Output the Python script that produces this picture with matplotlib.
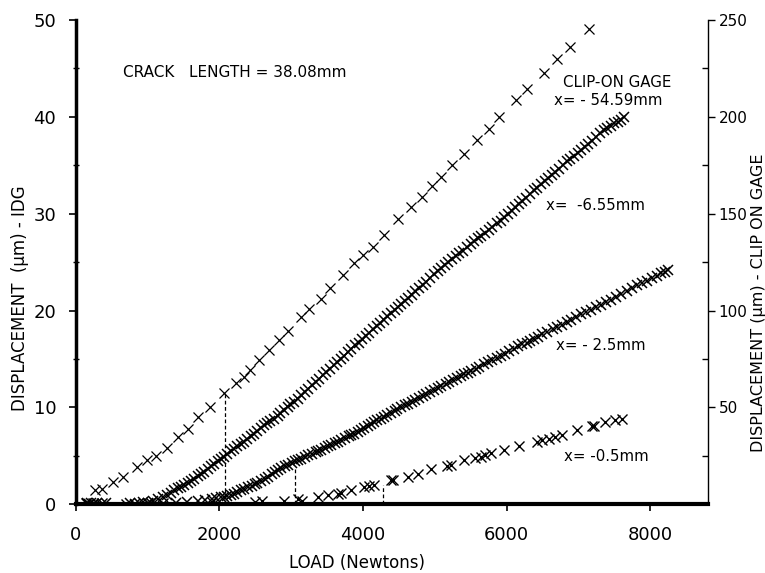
import matplotlib
matplotlib.use("Agg")
import matplotlib.pyplot as plt
from matplotlib.ticker import MultipleLocator

# clip-on gage, x = -54.59 mm (right axis, um)
clip_load = [268, 361, 523, 662, 847, 986, 1111, 1273, 1426, 1565, 1704, 1866, 2065, 2236,
             2343, 2421, 2546, 2690, 2829, 2954, 3139, 3254, 3417, 3546, 3718, 3879, 3996,
             4135, 4296, 4482, 4667, 4829, 4968, 5083, 5246, 5407, 5593, 5754, 5893, 6125,
             6288, 6518, 6704, 6889, 7143]
clip_disp = [7.2, 8.1, 11.5, 14.1, 19.3, 22.8, 24.8, 28.8, 34.8, 39.1, 44.8, 50.2, 57.2, 62.4,
             65.8, 69.2, 74.4, 79.5, 84.7, 89.5, 96.8, 101, 106.2, 111.4, 118.5, 124.5, 128.5,
             133, 139, 147.5, 153.5, 158.5, 164.5, 169, 175, 181, 188, 194, 200, 208.5,
             214.5, 222.5, 230, 236, 245.5]

# IDG, x = -6.55 mm (left axis, um)
idg655_load = [160, 210, 260, 420, 760, 880, 940,
               1000, 1080, 1150, 1210, 1270, 1320, 1370, 1420, 1470, 1510, 1560, 1600, 1650,
               1700, 1740, 1790, 1840, 1880, 1930, 1980, 2020, 2070, 2110, 2160, 2200, 2250,
               2300, 2340, 2390, 2440, 2480, 2530, 2580, 2620, 2670, 2710, 2760, 2810, 2850,
               2900, 2950, 2990, 3040, 3090, 3140, 3190, 3240, 3290, 3340, 3390, 3440, 3490,
               3540, 3590, 3640, 3690, 3740, 3790, 3840, 3890, 3940, 3990, 4040, 4090, 4140,
               4190, 4240, 4290, 4340, 4390, 4440, 4490, 4530, 4580, 4630, 4680, 4730, 4780,
               4830, 4880, 4930, 4990, 5040, 5090, 5140, 5190, 5240, 5290, 5340, 5390, 5450,
               5500, 5550, 5600, 5650, 5700, 5750, 5800, 5860, 5920, 5970, 6020, 6070, 6120,
               6170, 6220, 6270, 6320, 6380, 6430, 6480, 6530, 6580, 6630, 6680, 6730, 6790,
               6840, 6890, 6940, 6990, 7040, 7090, 7140, 7190, 7240, 7300, 7350, 7400, 7450,
               7500, 7550, 7600, 7640]
idg655_disp = [0.1, 0.1, 0.05, 0.1, 0.15, 0.1, 0.2,
               0.15, 0.3, 0.5, 0.75, 1.0, 1.2, 1.45, 1.65, 1.8, 1.96, 2.2, 2.4, 2.65,
               2.9, 3.1, 3.35, 3.65, 3.9, 4.2, 4.45, 4.65, 4.9, 5.2, 5.45, 5.75, 6.0,
               6.25, 6.45, 6.75, 7.05, 7.3, 7.6, 7.9, 8.15, 8.4, 8.6, 8.85, 9.15, 9.45,
               9.7, 10.0, 10.3, 10.6, 10.9, 11.25, 11.6, 11.95, 12.3, 12.6, 12.95, 13.3, 13.65,
               14.0, 14.35, 14.7, 15.0, 15.35, 15.7, 16.05, 16.4, 16.7, 17.05, 17.4, 17.7, 18.05,
               18.4, 18.7, 19.05, 19.4, 19.7, 20.05, 20.4, 20.65, 21.0, 21.3, 21.65, 22.0, 22.3,
               22.65, 23.0, 23.35, 23.8, 24.1, 24.4, 24.7, 25.0, 25.3, 25.6, 25.9, 26.2, 26.6,
               26.9, 27.2, 27.5, 27.75, 28.05, 28.35, 28.65, 29.0, 29.3, 29.65, 30.0, 30.3, 30.65,
               31.0, 31.3, 31.65, 32.0, 32.4, 32.7, 33.05, 33.35, 33.7, 34.0, 34.35, 34.65, 35.05,
               35.4, 35.7, 36.0, 36.3, 36.6, 36.9, 37.2, 37.55, 37.9, 38.3, 38.6, 38.85, 39.1,
               39.35, 39.5, 39.7, 39.95]

# IDG, x = -2.5 mm
idg25_load = [190, 300, 820, 1050, 1400, 1550,
              1700, 1800, 1900, 1960, 2020, 2070, 2110, 2160, 2200, 2250, 2300, 2350, 2400,
              2450, 2500, 2530, 2580, 2630, 2680, 2730, 2780, 2820, 2860, 2910, 2960, 3010,
              3060, 3100, 3140, 3190, 3240, 3290, 3340, 3380, 3420, 3470, 3520, 3560, 3610,
              3650, 3700, 3750, 3800, 3840, 3880, 3930, 3970, 4020, 4070, 4110, 4160, 4200,
              4250, 4300, 4340, 4390, 4440, 4480, 4530, 4580, 4630, 4680, 4730, 4780, 4830,
              4880, 4940, 4990, 5040, 5090, 5150, 5200, 5260, 5310, 5360, 5410, 5460, 5510,
              5570, 5620, 5680, 5740, 5800, 5860, 5920, 5980, 6040, 6100, 6160, 6220, 6280,
              6330, 6380, 6440, 6500, 6570, 6640, 6700, 6770, 6840, 6900, 6970, 7040, 7110,
              7180, 7250, 7310, 7380, 7450, 7530, 7600, 7680, 7750, 7820, 7890, 7960, 8030,
              8090, 8150, 8200, 8250]
idg25_disp = [0.05, 0.1, 0.05, 0.15, 0.1, 0.2,
              0.3, 0.45, 0.55, 0.6, 0.7, 0.75, 0.85, 1.0, 1.1, 1.27, 1.45, 1.62, 1.75,
              1.9, 2.05, 2.15, 2.4, 2.65, 2.85, 3.1, 3.3, 3.5, 3.7, 3.9, 4.1, 4.3,
              4.45, 4.6, 4.72, 4.9, 5.05, 5.2, 5.35, 5.5, 5.6, 5.8, 6.0, 6.15, 6.3,
              6.45, 6.6, 6.8, 7.0, 7.15, 7.3, 7.5, 7.65, 7.85, 8.05, 8.25, 8.45, 8.65,
              8.85, 9.05, 9.25, 9.45, 9.65, 9.8, 10.0, 10.2, 10.4, 10.6, 10.8, 11.0, 11.15,
              11.35, 11.6, 11.8, 12.0, 12.2, 12.4, 12.6, 12.85, 13.05, 13.25, 13.45, 13.6, 13.8,
              14.0, 14.2, 14.45, 14.65, 14.85, 15.1, 15.3, 15.55, 15.8, 16.05, 16.3, 16.5, 16.7,
              16.9, 17.1, 17.3, 17.55, 17.8, 18.05, 18.3, 18.55, 18.8, 19.05, 19.3, 19.6, 19.85,
              20.1, 20.4, 20.6, 20.85, 21.1, 21.45, 21.7, 22.05, 22.35, 22.6, 22.8, 23.05, 23.35,
              23.6, 23.85, 24.0, 24.2]

# IDG, x = -0.5 mm
idg05_load = [140, 240, 360, 700, 1000, 1220, 1900, 2500, 2600, 2900, 3150,
              3093, 3370, 3509, 3648, 3700, 3833, 4018, 4080, 4157, 4389, 4420, 4621, 4760,
              4944, 5176, 5230, 5407, 5560, 5639, 5700, 5778, 5963, 6171, 6426, 6500, 6588,
              6680, 6773, 6982, 7190, 7220, 7375, 7514, 7606]
idg05_disp = [0.1, 0.15, 0.1, 0.05, 0.1, 0.15, 0.2, 0.25, 0.3, 0.3, 0.35,
              0.58, 0.75, 0.93, 1.1, 1.15, 1.45, 1.79, 1.85, 1.96, 2.48, 2.5, 2.82, 3.17,
              3.69, 4.0, 4.1, 4.55, 4.8, 4.89, 5.05, 5.24, 5.58, 6.0, 6.44, 6.6, 6.78,
              6.95, 7.13, 7.64, 8.06, 8.1, 8.5, 8.68, 8.85]

# dashed drop lines
drop_load = [2083, 3056, 4273]
drop_top = [11.4, 3.8, 2.0]

fig = plt.figure(figsize=(7.65, 5.73), dpi=100)
ax = fig.add_axes([0.099, 0.12, 0.826, 0.845])
ax2 = ax.twinx()

mk = dict(linestyle="none", marker="x", color="black")
ax2.plot(clip_load, clip_disp, markersize=6.5, mew=0.9, **mk)
ax.plot(idg655_load, idg655_disp, markersize=6.5, mew=1.1, **mk)
ax.plot(idg25_load, idg25_disp, markersize=6.5, mew=1.1, **mk)
ax.plot(idg05_load, idg05_disp, markersize=6.5, mew=1.0, **mk)
ax.vlines(drop_load, 0, drop_top, colors="black", linestyles=(0, (3, 2)), linewidth=0.9)

ax.set_xlim(0, 8800)
ax.set_ylim(0, 50)
ax2.set_ylim(0, 250)

ax.spines["top"].set_visible(False)
ax2.spines["top"].set_visible(False)
ax.spines["left"].set_linewidth(2.5)
ax.spines["bottom"].set_linewidth(3)
ax2.spines["right"].set_linewidth(1)
ax.spines["right"].set_visible(False)
ax2.spines["left"].set_visible(False)
ax2.spines["bottom"].set_visible(False)

ax.xaxis.set_major_locator(MultipleLocator(2000))
ax.yaxis.set_major_locator(MultipleLocator(10))
ax.yaxis.set_minor_locator(MultipleLocator(5))
ax2.yaxis.set_minor_locator(MultipleLocator(25))
ax2.set_yticks([50, 100, 150, 200, 250])

ax.tick_params(axis="x", direction="out", length=5, width=1.2, labelsize=13, pad=11)
ax.tick_params(axis="y", which="major", direction="out", length=5, width=1.2, labelsize=13, pad=9)
ax.tick_params(axis="y", which="minor", direction="inout", length=4, width=1)
ax2.tick_params(axis="y", which="major", direction="out", length=5, width=1, labelsize=11, pad=3)
ax2.tick_params(axis="y", which="minor", direction="in", length=4, width=1)

fig.text(20 / 765, 1 - 298 / 573, "DISPLACEMENT  (\u03bcm) - IDG", fontsize=12,
         rotation=90, ha="center", va="center")
fig.text(758 / 765, 1 - 303 / 573, "DISPLACEMENT (\u03bcm) - CLIP ON GAGE", fontsize=11.5,
         rotation=90, ha="center", va="center")
fig.text(357 / 765, 1 - 563 / 573, "LOAD (Newtons)", fontsize=12, ha="center", va="center")

ax.text(653, 44.6, "CRACK   LENGTH = 38.08mm", fontsize=11, va="center")
ax.text(6792, 43.5, "CLIP-ON GAGE", fontsize=10.8, va="center")
ax.text(6667, 41.7, "x= - 54.59mm", fontsize=10.8, va="center")
ax.text(6556, 30.9, "x=  -6.55mm", fontsize=10.8, va="center")
ax.text(6694, 16.4, "x= - 2.5mm", fontsize=10.8, va="center")
ax.text(6806, 4.96, "x= -0.5mm", fontsize=10.8, va="center")

fig.savefig("out.png", dpi=100)
